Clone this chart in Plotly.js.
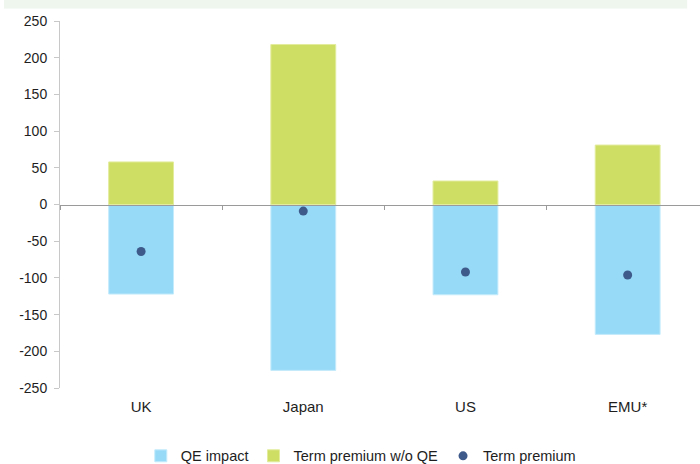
<!DOCTYPE html>
<html>
<head>
<meta charset="utf-8">
<script src="https://cdn.plot.ly/plotly-3.0.1.min.js"></script>
<style>
  html, body { margin: 0; padding: 0; background: #fff; }
  #chart { width: 700px; height: 464px; }
</style>
</head>
<body>
<div id="chart"></div>
<script>
// Term premium decomposition by region (basis points)
const regions = ['UK', 'Japan', 'US', 'EMU*'];
const qeImpact = [-122, -226, -123, -177];
const termPremiumNoQE = [58, 218, 32, 81];
const termPremium = [-64, -9, -92, -96];
const yTicks = [-250, -200, -150, -100, -50, 0, 50, 100, 150, 200, 250];

const FONT = 'Liberation Sans, Arial, sans-serif';
const TEXT = '#1e1e1e';

const traces = [
  {
    type: 'bar',
    name: 'QE impact',
    x: regions,
    y: qeImpact,
    width: 0.4,
    marker: { color: '#97DAF8', line: { color: '#C4EBFB', width: 1 } },
    hoverinfo: 'x+y'
  },
  {
    type: 'bar',
    name: 'Term premium w/o QE',
    x: regions,
    y: termPremiumNoQE,
    width: 0.4,
    marker: { color: '#CEDD64', line: { color: '#E2EC9C', width: 1 } },
    hoverinfo: 'x+y'
  },
  {
    type: 'scatter',
    mode: 'markers',
    name: 'Term premium',
    x: regions,
    y: termPremium,
    xaxis: 'x2',
    marker: { color: '#3E5A8A', size: 9 },
    hoverinfo: 'x+y'
  }
];

const layout = {
  width: 700,
  height: 464,
  paper_bgcolor: '#ffffff',
  plot_bgcolor: '#ffffff',
  margin: { l: 60, r: 0, t: 21, b: 76, autoexpand: false },
  font: { family: FONT, size: 14, color: TEXT },
  barmode: 'relative',
  showlegend: true,
  legend: {
    orientation: 'h',
    x: 0.47,
    xanchor: 'center',
    y: -0.185,
    yanchor: 'middle',
    font: { family: FONT, size: 14.5, color: TEXT },
    itemwidth: 30,
    traceorder: 'normal'
  },
  xaxis: {
    type: 'category',
    range: [-0.5, 3.446],
    showline: false,
    showgrid: false,
    zeroline: false,
    ticks: '',
    ticklabelstandoff: 8,
    tickfont: { family: FONT, size: 15, color: TEXT }
  },
  xaxis2: {
    type: 'category',
    overlaying: 'x',
    matches: 'x',
    anchor: 'free',
    position: 0.5,
    side: 'bottom',
    showticklabels: false,
    showgrid: false,
    zeroline: false,
    showline: true,
    linecolor: '#9a9a9a',
    linewidth: 1,
    ticks: 'outside',
    tickson: 'boundaries',
    ticklen: 4,
    tickcolor: '#9a9a9a',
    tickwidth: 1
  },
  yaxis: {
    range: [-250, 250],
    tickvals: yTicks,
    ticktext: yTicks.map(String),
    showgrid: false,
    zeroline: false,
    showline: true,
    linecolor: '#c8c8c8',
    linewidth: 1,
    ticks: 'outside',
    ticklen: 5,
    tickcolor: '#c8c8c8',
    ticklabelstandoff: 4,
    tickfont: { family: FONT, size: 14, color: TEXT }
  },
  shapes: [
    {
      type: 'rect',
      xref: 'paper',
      yref: 'paper',
      x0: -0.0875,
      x1: 0.98,
      y0: 1.034,
      y1: 1.06,
      fillcolor: '#EEF6EE',
      line: { width: 0 },
      layer: 'below'
    }
  ]
};

Plotly.newPlot('chart', traces, layout, { displayModeBar: false, staticPlot: true });
</script>
</body>
</html>
